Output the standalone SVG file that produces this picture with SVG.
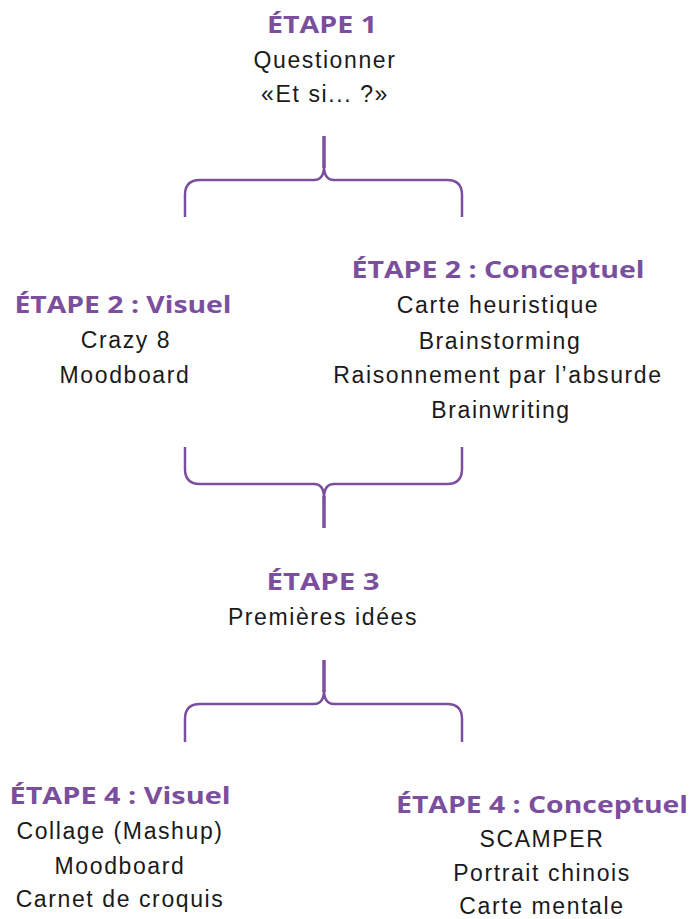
<svg xmlns="http://www.w3.org/2000/svg" width="693" height="919" viewBox="0 0 693 919">
<style>
.h{font-family:"Open Sans","Liberation Sans",sans-serif;font-weight:700;font-size:24px;fill:#7B4F9E;text-anchor:middle}
.t{font-family:"Liberation Sans",Arial,sans-serif;font-size:23px;fill:#1a1a1a;text-anchor:middle;letter-spacing:1.6px}
.stem{fill:none;stroke:#7B4F9E;stroke-width:3.5}
.br{fill:none;stroke:#7B4F9E;stroke-width:2.5}
</style>
<rect width="693" height="919" fill="#ffffff"/>
<g id="etape1">
<text class="h" x="322" y="33" textLength="110" lengthAdjust="spacingAndGlyphs">ÉTAPE 1</text>
<text class="t" x="325" y="68">Questionner</text>
<text class="t" x="325" y="102">«Et si... ?»</text>
</g>
<g id="etape2-visuel">
<text class="h" x="123" y="313" textLength="217" lengthAdjust="spacingAndGlyphs">ÉTAPE 2 : Visuel</text>
<text class="t" x="126" y="348">Crazy 8</text>
<text class="t" x="125" y="383">Moodboard</text>
</g>
<g id="etape2-conceptuel">
<text class="h" x="498" y="278" textLength="293" lengthAdjust="spacingAndGlyphs">ÉTAPE 2 : Conceptuel</text>
<text class="t" x="498" y="313">Carte heuristique</text>
<text class="t" x="500" y="349">Brainstorming</text>
<text class="t" x="498" y="383">Raisonnement par l’absurde</text>
<text class="t" x="501" y="418">Brainwriting</text>
</g>
<g id="etape3">
<text class="h" x="323" y="590" textLength="113" lengthAdjust="spacingAndGlyphs">ÉTAPE 3</text>
<text class="t" x="323" y="625">Premières idées</text>
</g>
<g id="etape4-visuel">
<text class="h" x="120" y="804" textLength="221" lengthAdjust="spacingAndGlyphs">ÉTAPE 4 : Visuel</text>
<text class="t" x="120" y="839">Collage (Mashup)</text>
<text class="t" x="120" y="874">Moodboard</text>
<text class="t" x="120" y="907">Carnet de croquis</text>
</g>
<g id="etape4-conceptuel">
<text class="h" x="542" y="813" textLength="292" lengthAdjust="spacingAndGlyphs">ÉTAPE 4 : Conceptuel</text>
<text class="t" x="542" y="847">SCAMPER</text>
<text class="t" x="542" y="881">Portrait chinois</text>
<text class="t" x="542" y="914">Carte mentale</text>
</g>
<g id="connectors">
<path class="stem" d="M324,136 V168"/>
<path class="br" d="M324,166 Q324,180 314,180 H200 Q185,180 185,195 V217 M324,166 Q324,180 334,180 H447 Q462,180 462,195 V217"/>
<path class="stem" d="M324,496 V528"/>
<path class="br" d="M185,447 V469 Q185,484 200,484 H314 Q324,484 324,498 M462,447 V469 Q462,484 447,484 H334 Q324,484 324,498"/>
<path class="stem" d="M324,660 V692"/>
<path class="br" d="M324,690 Q324,704 314,704 H200 Q185,704 185,719 V742 M324,690 Q324,704 334,704 H447 Q462,704 462,719 V742"/>
</g>
</svg>
